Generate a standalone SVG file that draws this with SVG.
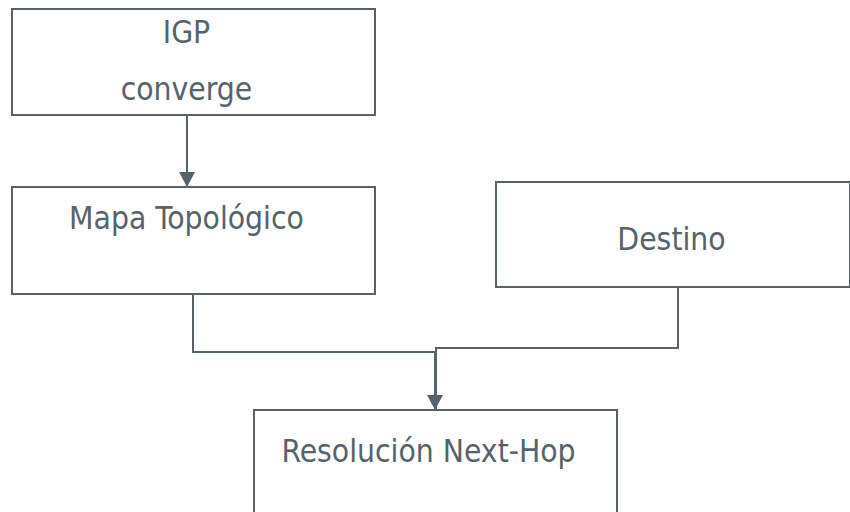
<svg xmlns="http://www.w3.org/2000/svg" width="850" height="512" viewBox="0 0 850 512">
<defs>
<style>
.box{fill:#fff;stroke:#56636b;stroke-width:2}
.t{font-family:"DejaVu Sans Condensed","DejaVu Sans",sans-serif;font-stretch:condensed;font-size:31.5px;fill:#56636b;text-anchor:middle}
.c{fill:none;stroke:#56636b;stroke-width:2}
</style>
<marker id="ah" markerUnits="userSpaceOnUse" markerWidth="16" markerHeight="16" refX="15" refY="8" orient="auto">
<path d="M0,0 L15,8 L0,16 Z" fill="#56636b"/>
</marker>
</defs>
<rect width="850" height="512" fill="#fff"/>
<g id="n-igp">
<rect class="box" x="12" y="9" width="363" height="106"/>
<text class="t" x="186.5" y="43">IGP</text>
<text class="t" x="186.5" y="100">converge</text>
</g>
<g id="n-mapa">
<rect class="box" x="12" y="187" width="363" height="107"/>
<text class="t" x="186.5" y="229">Mapa Topológico</text>
</g>
<g id="n-destino">
<rect class="box" x="496" y="182" width="354" height="105"/>
<text class="t" x="671.5" y="250">Destino</text>
</g>
<g id="n-resol">
<rect class="box" x="254" y="410" width="363" height="110"/>
<text class="t" x="428.5" y="462">Resolución Next-Hop</text>
</g>
<g id="connectors">
<path class="c" d="M187,115 V187" marker-end="url(#ah)"/>
<path class="c" d="M193,294 V352 H435 V410" marker-end="url(#ah)"/>
<path class="c" d="M678,287 V348 H436 V410"/>
</g>
</svg>
